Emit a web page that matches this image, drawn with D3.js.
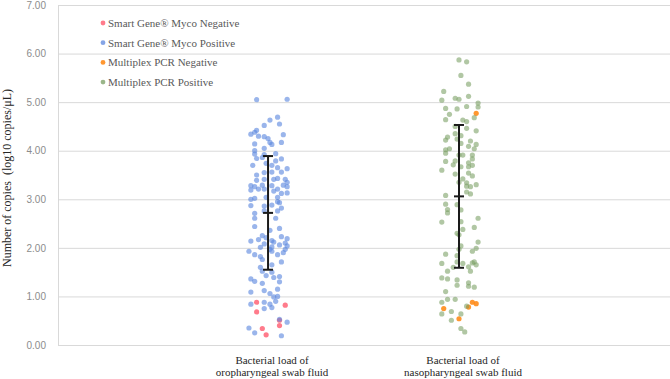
<!DOCTYPE html>
<html>
<head>
<meta charset="utf-8">
<script src="https://cdn.jsdelivr.net/npm/d3@7"></script>
<style>
  html, body { margin: 0; padding: 0; background: #fff; }
  svg { display: block; }
</style>
</head>
<body>
<div id="chart"></div>
<script>
// Jittered dot plot of bacterial load, two swab types, mean ± SD bars.

const yTicks = [0, 1, 2, 3, 4, 5, 6, 7];
const categories = ["Bacterial load of\noropharyngeal swab fluid", "Bacterial load of\nnasopharyngeal swab fluid"];
const catX = [1, 2];

const seriesNames = ["Smart Gene® Myco Negative", "Smart Gene® Myco Positive", "Multiplex PCR Negative", "Multiplex PCR Positive"];

// [x (category + jitter), log10 copies/µL]
const smartNeg = [
  [0.94, 0.88], [1.09, 0.82], [0.94, 0.68], [1.06, 0.51], [1.06, 0.40], [0.97, 0.34], [0.99, 0.21]
];
const smartPos = [
  [0.94, 5.05], [1.10, 5.06], [1.05, 4.69], [1.01, 4.63], [1.06, 4.55], [0.98, 4.52], [0.94, 4.42], [0.93, 4.38],
  [0.91, 4.34], [0.95, 4.30], [0.98, 4.29], [1.08, 4.33], [1.00, 4.25], [1.01, 4.17], [1.07, 4.17], [0.93, 4.14],
  [1.02, 4.13], [0.98, 4.05], [0.93, 4.00], [0.93, 3.93], [1.04, 3.94], [0.98, 3.92], [0.97, 3.86], [0.94, 3.84],
  [1.07, 3.83], [1.04, 3.79], [0.92, 3.70], [0.99, 3.74], [1.02, 3.70], [1.05, 3.65], [1.10, 3.63], [0.94, 3.50],
  [0.98, 3.55], [1.02, 3.56], [1.07, 3.56], [1.05, 3.43], [1.09, 3.41], [0.94, 3.39], [0.98, 3.41], [1.03, 3.41],
  [1.10, 3.35], [0.97, 3.29], [0.91, 3.28], [0.93, 3.26], [0.95, 3.21], [1.02, 3.28], [1.08, 3.29], [1.10, 3.26],
  [1.05, 3.21], [0.98, 3.21], [0.91, 3.19], [1.03, 3.17], [1.07, 3.12], [1.10, 3.13], [0.99, 3.04], [1.05, 3.04],
  [0.91, 3.00], [0.93, 3.02], [0.91, 2.87], [1.05, 2.95], [1.06, 2.93], [1.07, 2.82], [1.02, 2.88], [0.98, 2.86],
  [1.05, 2.76], [0.98, 2.76], [0.93, 2.71], [1.04, 2.61], [0.93, 2.61], [1.06, 2.40], [0.93, 2.44], [1.01, 2.36],
  [1.07, 2.23], [0.97, 2.25], [0.99, 2.21], [1.10, 2.19], [0.95, 2.17], [0.91, 2.14], [1.02, 2.15], [1.03, 2.12],
  [1.09, 2.10], [0.98, 2.08], [1.06, 2.06], [1.10, 2.04], [1.02, 2.02], [0.96, 2.01], [1.01, 1.97], [1.09, 1.97],
  [0.90, 1.93], [1.02, 1.93], [1.08, 1.90], [0.93, 1.86], [1.05, 1.86], [0.96, 1.82], [0.97, 1.76], [1.07, 1.71],
  [1.02, 1.65], [0.96, 1.60], [0.97, 1.52], [1.02, 1.50], [0.99, 1.43], [1.03, 1.39], [1.06, 1.41], [0.91, 1.36],
  [0.93, 1.31], [1.06, 1.30], [0.97, 1.27], [1.05, 1.15], [0.91, 1.09], [0.98, 1.12], [1.01, 1.06], [1.05, 1.00],
  [1.03, 0.99], [1.04, 0.90], [0.98, 0.88], [1.01, 0.84], [0.91, 0.84], [1.02, 0.77], [0.98, 0.75], [1.06, 0.53],
  [1.10, 0.47], [0.90, 0.35], [0.93, 0.25], [1.07, 0.19]
];
const pcrNeg = [
  [2.09, 4.77], [1.92, 0.75], [2.07, 0.88], [2.09, 0.85], [2.05, 0.78], [2.00, 0.54]
];
const pcrPos = [
  [2.00, 5.87], [2.04, 5.83], [2.01, 5.55], [2.05, 5.37], [1.92, 5.22], [1.91, 5.04], [1.98, 5.08], [2.00, 5.06],
  [2.05, 5.12], [2.10, 4.98], [2.10, 4.90], [2.04, 4.91], [1.93, 4.87], [1.99, 4.86], [1.95, 4.75], [2.08, 4.68],
  [1.93, 4.64], [2.02, 4.63], [2.04, 4.60], [1.98, 4.50], [2.04, 4.46], [2.09, 4.41], [1.98, 4.35], [1.94, 4.28],
  [2.01, 4.31], [1.93, 4.22], [1.99, 4.24], [2.06, 4.20], [2.01, 4.15], [2.09, 4.13], [2.05, 4.09], [2.08, 4.04],
  [1.93, 4.02], [1.95, 4.04], [1.93, 3.95], [2.00, 3.91], [2.02, 3.91], [2.07, 3.91], [2.07, 3.83], [1.93, 3.78],
  [1.98, 3.79], [2.05, 3.75], [1.97, 3.71], [2.01, 3.67], [2.05, 3.67], [2.07, 3.70], [1.91, 3.60], [1.98, 3.52],
  [2.05, 3.54], [2.07, 3.48], [2.00, 3.35], [2.02, 3.42], [2.04, 3.34], [2.04, 3.27], [2.06, 3.26], [2.09, 3.30],
  [2.04, 3.15], [2.06, 3.11], [1.93, 3.08], [1.93, 2.90], [1.99, 2.89], [2.01, 2.78], [1.94, 2.79], [1.94, 2.72],
  [2.10, 2.61], [1.91, 2.53], [2.01, 2.54], [2.08, 2.42], [2.02, 2.38], [1.99, 2.30], [2.00, 2.27], [2.10, 2.12],
  [2.09, 1.99], [2.01, 2.04], [2.00, 1.97], [2.07, 1.93], [1.93, 1.87], [1.99, 1.84], [1.91, 1.68], [1.99, 1.71],
  [2.02, 1.68], [2.07, 1.69], [2.08, 1.71], [2.09, 1.65], [1.97, 1.60], [2.05, 1.61], [1.94, 1.52], [2.06, 1.52],
  [1.91, 1.38], [1.94, 1.36], [1.99, 1.34], [2.05, 1.28], [1.99, 1.23], [2.05, 1.21], [2.08, 1.19], [1.93, 1.10],
  [1.91, 0.88], [1.94, 0.94], [1.98, 0.94], [2.04, 0.80], [1.91, 0.64], [1.96, 0.69], [2.01, 0.64], [1.96, 0.51],
  [2.01, 0.34], [2.03, 0.27]
];

// mean ± SD per category
const means = [2.72, 3.06];
const sds = [1.17, 1.47];

const W = 670, H = 379;
const margin = { top: 5, right: 0, bottom: 34, left: 58 };

const svg = d3.select("#chart").append("svg")
  .attr("width", W).attr("height", H)
  .attr("font-family", "'Liberation Serif', 'Times New Roman', serif");

const x = d3.scaleLinear().domain([-0.1, 3.105]).range([margin.left, W - margin.right]);
const y = d3.scaleLinear().domain([0, 7]).range([H - margin.bottom, margin.top]);

// Gridlines + y labels
const gY = svg.append("g")
  .attr("transform", `translate(${margin.left},0)`)
  .call(d3.axisLeft(y).tickValues(yTicks).tickSize(-(W - margin.left - margin.right)).tickPadding(12).tickFormat(d3.format(".2f")));
gY.select(".domain").attr("stroke", "#d9d9d9");
gY.selectAll(".tick line").attr("stroke", "#d9d9d9");
gY.selectAll(".tick text")
  .attr("font-family", "'Liberation Sans', Arial, sans-serif")
  .attr("font-size", 10).attr("fill", "#8c8c8c");

svg.append("text")
  .attr("transform", `translate(11,${(y(0) + y(7)) / 2 + 3}) rotate(-90)`)
  .attr("text-anchor", "middle")
  .style("white-space", "pre")
  .attr("font-size", 12).attr("fill", "#262626")
  .text("Number of copies  (log10 copies/μL)");

// Category labels
categories.forEach((c, i) => {
  const t = svg.append("text")
    .attr("text-anchor", "middle")
    .attr("font-size", 11).attr("fill", "#262626");
  c.split("\n").forEach((line, j) => {
    t.append("tspan").attr("x", x(catX[i]) + 4).attr("y", H - 15 + j * 12).text(line);
  });
});

// Points
const series = [
  { name: seriesNames[0], data: smartNeg, fill: "rgb(255,90,110)", op: 0.8 },
  { name: seriesNames[1], data: smartPos, fill: "rgb(92,135,222)", op: 0.62 },
  { name: seriesNames[2], data: pcrNeg, fill: "rgb(255,140,26)", op: 0.9 },
  { name: seriesNames[3], data: pcrPos, fill: "rgb(120,158,98)", op: 0.58 }
];

const gPts = svg.append("g");
series.forEach(s => {
  gPts.append("g").selectAll("circle").data(s.data).join("circle")
    .attr("cx", d => x(d[0]))
    .attr("cy", d => y(d[1]))
    .attr("r", 2.6)
    .attr("fill", s.fill)
    .attr("fill-opacity", s.op);
});

// Error bars: mean with ± SD whiskers
const gErr = svg.append("g").attr("stroke", "#1a1a1a").attr("stroke-width", 2);
catX.forEach((cx, i) => {
  const px = x(cx), cap = 5;
  const lo = means[i] - sds[i], hi = means[i] + sds[i];
  gErr.append("line").attr("x1", px).attr("x2", px).attr("y1", y(lo)).attr("y2", y(hi));
  [lo, means[i], hi].forEach(v => {
    gErr.append("line").attr("x1", px - cap).attr("x2", px + cap).attr("y1", y(v)).attr("y2", y(v));
  });
});

// Legend
const gLegend = svg.append("g").attr("transform", "translate(103,23)");
series.forEach((s, i) => {
  const g = gLegend.append("g").attr("transform", `translate(0,${i * 19.7})`);
  g.append("circle").attr("r", 2.4).attr("fill", s.fill).attr("fill-opacity", Math.max(s.op, 0.75));
  g.append("text").attr("x", 5).attr("y", 3.8).attr("font-size", 11).attr("fill", "#595959").text(s.name);
});
</script>
</body>
</html>
